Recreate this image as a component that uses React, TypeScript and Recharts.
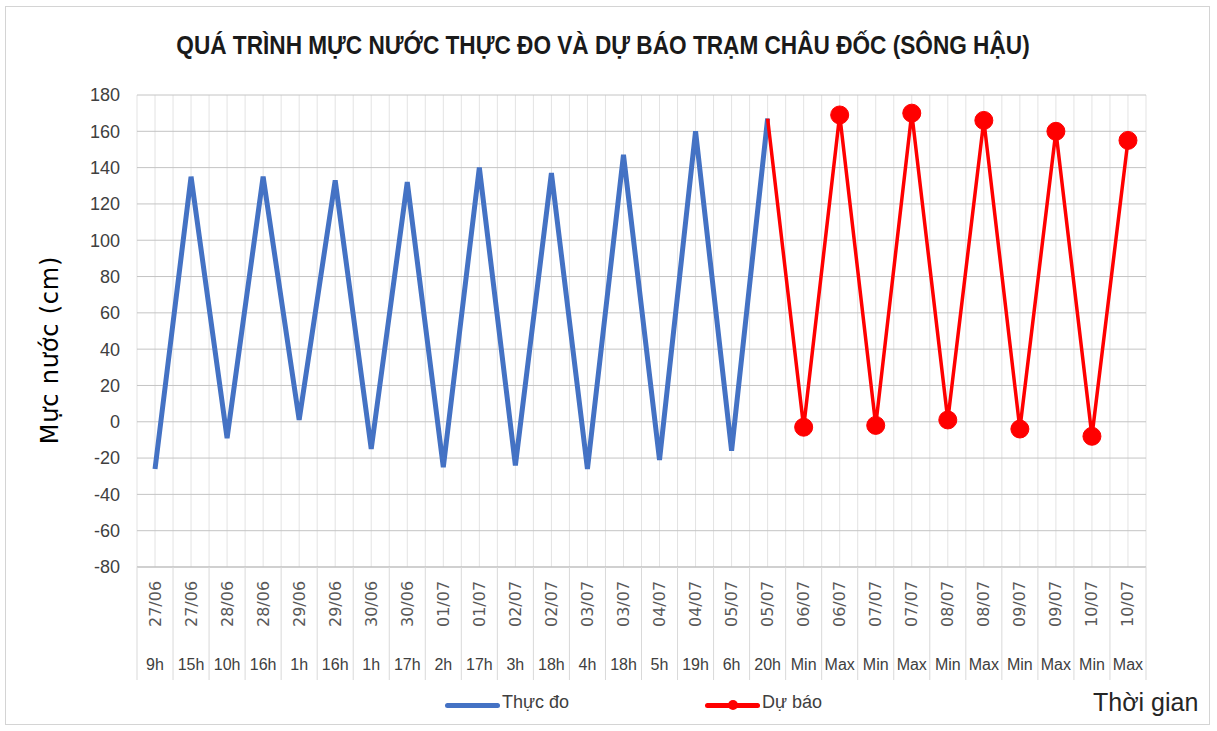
import React from 'react'
import { LineChart, Line, XAxis, YAxis, CartesianGrid, Legend } from 'recharts'

const dates = [
  '27/06', '27/06', '28/06', '28/06', '29/06', '29/06', '30/06', '30/06',
  '01/07', '01/07', '02/07', '02/07', '03/07', '03/07', '04/07', '04/07',
  '05/07', '05/07', '06/07', '06/07', '07/07', '07/07', '08/07', '08/07',
  '09/07', '09/07', '10/07', '10/07',
]
const hours = [
  '9h', '15h', '10h', '16h', '1h', '16h', '1h', '17h', '2h', '17h', '3h', '18h',
  '4h', '18h', '5h', '19h', '6h', '20h', 'Min', 'Max', 'Min', 'Max', 'Min', 'Max',
  'Min', 'Max', 'Min', 'Max',
]
const observed = [
  -26, 135, -9, 135, 1, 133, -15, 132, -25, 140, -24, 137, -26, 147, -21, 160,
  -16, 167, null, null, null, null, null, null, null, null, null, null,
]
const forecast = [
  null, null, null, null, null, null, null, null, null, null, null, null, null,
  null, null, null, null, 167, -3, 169, -2, 170, 1, 166, -4, 160, -8, 155,
]
const yTicks = [-80, -60, -40, -20, 0, 20, 40, 60, 80, 100, 120, 140, 160, 180]

const data = dates.map((d, i) => ({
  cat: i,
  date: d,
  hour: hours[i],
  obs: observed[i],
  fc: forecast[i],
}))

const W = 1217
const H = 731
const PLOT_LEFT = 137
const PLOT_RIGHT = 1146
const STEP = (PLOT_RIGHT - PLOT_LEFT) / dates.length
const narrow = '"Liberation Sans Narrow", "Liberation Sans", sans-serif'
const BLUE = '#4472C4'
const RED = '#FF0000'

function CatTick(props: any) {
  const { x, y, payload, index } = props
  const item = data[payload.value]
  const last = index === dates.length - 1
  return (
    <g>
      <line x1={x - STEP / 2} x2={x - STEP / 2} y1={y} y2={y + 113} stroke="#d9d9d9" />
      {last && <line x1={x + STEP / 2} x2={x + STEP / 2} y1={y} y2={y + 113} stroke="#d9d9d9" />}
      <text
        transform={`translate(${x},${y + 37}) rotate(-90)`}
        textAnchor="middle"
        dominantBaseline="central"
        fontFamily="DejaVu Sans"
        fontSize={16}
        fill="#595959"
      >
        {item.date}
      </text>
      <text x={x} y={y + 103} textAnchor="middle" fontFamily={narrow} fontSize={16} fill="#404040">
        {item.hour}
      </text>
    </g>
  )
}

function RedDot(props: any) {
  const { cx, cy, index, value } = props
  if (value == null || cy == null || index === 17) return <g key={`d${index}`} />
  return <circle key={`d${index}`} cx={cx} cy={cy} r={9} fill={RED} stroke={RED} />
}

function LegendRow() {
  return (
    <div style={{ position: 'relative', width: W, height: 40, fontFamily: narrow }}>
      <div style={{ position: 'absolute', left: 445, top: 17, width: 55, height: 5, background: BLUE, borderRadius: 3 }} />
      <div style={{ position: 'absolute', left: 502, top: 6, fontSize: 18, color: '#404040' }}>Thực đo</div>
      <div style={{ position: 'absolute', left: 705, top: 17, width: 55, height: 5, background: RED, borderRadius: 3 }} />
      <div style={{ position: 'absolute', left: 728, top: 14, width: 10, height: 10, background: RED, borderRadius: 5 }} />
      <div style={{ position: 'absolute', left: 762, top: 6, fontSize: 18, color: '#404040' }}>Dự báo</div>
      <div style={{ position: 'absolute', left: 1093, top: 2, fontSize: 25, color: '#262626' }}>Thời gian</div>
    </div>
  )
}

export default function App() {
  return (
    <div style={{ position: 'absolute', left: 0, top: 0, width: W, height: H, background: '#fff' }}>
      <div
        style={{
          position: 'absolute', left: 5, top: 6, width: W - 12, height: H - 12,
          border: '1px solid #d4d4d4', boxSizing: 'border-box',
        }}
      />
      <div
        style={{
          position: 'absolute', left: 0, width: 1206, top: 30, textAlign: 'center',
          fontFamily: narrow, fontWeight: 'bold', fontSize: 26, color: '#1a1a1a',
          transform: 'scaleX(0.87)', transformOrigin: '603px 0',
        }}
      >
        QUÁ TRÌNH MỰC NƯỚC THỰC ĐO VÀ DỰ BÁO TRẠM CHÂU ĐỐC (SÔNG HẬU)
      </div>
      <LineChart
        width={W}
        height={H}
        data={data}
        margin={{ top: 95, right: W - PLOT_RIGHT, bottom: 51, left: 0 }}
        style={{ position: 'absolute', left: 0, top: 0 }}
      >
        <CartesianGrid
          horizontal={false}
          stroke="#e3e3e3"
          verticalCoordinatesGenerator={({ offset }: any) => {
            const out: number[] = []
            const half = offset.width / dates.length / 2
            for (let i = 0; i <= dates.length * 2; i++) out.push(offset.left + i * half)
            return out
          }}
        />
        <CartesianGrid vertical={false} stroke="#c4c4c4" />
        <XAxis
          dataKey="cat"
          type="category"
          scale="band"
          interval={0}
          height={113}
          tickSize={0}
          tickMargin={0}
          tickLine={false}
          axisLine={{ stroke: '#bfbfbf' }}
          tick={<CatTick />}
        />
        <YAxis
          width={PLOT_LEFT}
          domain={[-80, 180]}
          ticks={yTicks}
          interval={0}
          axisLine={false}
          tickLine={false}
          tickMargin={11}
          tick={{ fontFamily: narrow, fontSize: 18, fill: '#404040' }}
          label={{
            content: (p: any) => {
              const vb = p.viewBox
              const cy = vb.y + vb.height / 2 + 19
              return (
                <text
                  transform={`translate(50,${cy}) rotate(-90)`}
                  textAnchor="middle"
                  dominantBaseline="central"
                  fontFamily="DejaVu Sans"
                  fontSize={24}
                  letterSpacing={0.8}
                  fill="#000"
                >
                  Mực nước (cm)
                </text>
              )
            },
          }}
        />
        <Legend
          layout="horizontal"
          verticalAlign="middle"
          align="center"
          wrapperStyle={{ top: 686, left: 0, width: W }}
          content={() => <LegendRow />}
        />
        <Line
          dataKey="obs"
          name="Thực đo"
          stroke={BLUE}
          strokeWidth={5}
          dot={false}
          activeDot={false}
          isAnimationActive={false}
        />
        <Line
          dataKey="fc"
          name="Dự báo"
          stroke={RED}
          strokeWidth={3.5}
          dot={<RedDot />}
          activeDot={false}
          isAnimationActive={false}
        />
      </LineChart>
    </div>
  )
}
